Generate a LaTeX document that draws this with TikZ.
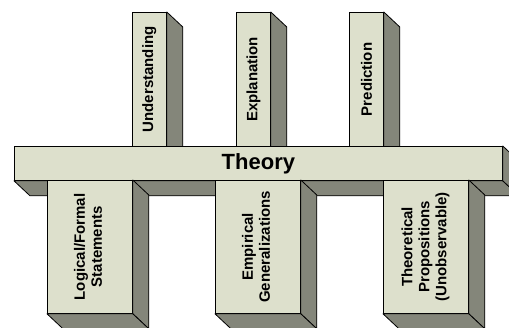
\documentclass[tikz,border=0pt]{standalone}
\usepackage{fontspec}
\setmainfont{Liberation Sans}
\usepackage{xcolor}
\usetikzlibrary{positioning}
\definecolor{facecol}{RGB}{221,224,204}
\definecolor{sidecol}{RGB}{132,134,122}

\begin{document}
\begin{tikzpicture}[
		x=1pt,y=-1pt,
		front/.style={draw,line width=0.8pt,fill=facecol,inner sep=0pt,anchor=north west,font=\bfseries\fontsize{15}{17}\selectfont},
		post/.style={front,minimum width=34pt,minimum height=134pt},
		base/.style={front,minimum width=85pt,minimum height=133pt},
		side/.style={draw,line width=0.8pt,fill=sidecol,line join=round}
		]
		\clip (0,0) rectangle (509,327);
		% upper pillars, behind the bar
		\node[post] (understanding) at (132,12) {\rotatebox{90}{Understanding}};
		\node[post] (explanation) at (236,12) {\rotatebox{90}{Explanation}};
		\node[post] (prediction) at (349,12) {\rotatebox{90}{Prediction}};
		\foreach \n in {understanding,explanation,prediction}
			\draw[side] (\n.north east) -- ++(16,15) -- ([shift={(16,15)}]\n.south east) -- (\n.south east) -- cycle;
		% the bar
		\node[front,minimum width=488pt,minimum height=34pt,font=\bfseries\fontsize{22}{26}\selectfont] (theory) at (14,146) {Theory};
		\draw[side] (theory.south west) -- ++(16,15) -- ([shift={(16,15)}]theory.south east) -- (theory.south east) -- cycle;
		\draw[side] (theory.north east) -- ++(16,15) -- ([shift={(16,15)}]theory.south east) -- (theory.south east) -- cycle;
		% lower pillars, in front of the bar
		\node[base] (logical) at (47,180) {\rotatebox{90}{\begin{tabular}{@{}c@{}}Logical/Formal\\Statements\end{tabular}}};
		\node[base] (empirical) at (215,180) {\rotatebox{90}{\begin{tabular}{@{}c@{}}Empirical\\Generalizations\end{tabular}}};
		\node[base] (theoretical) at (383,180) {\rotatebox{90}{\begin{tabular}{@{}c@{}}Theoretical\\Propositions\\(Unobservable)\end{tabular}}};
		\foreach \n in {logical,empirical,theoretical}{
			\draw[side] (\n.north east) -- ++(16,15) -- ([shift={(16,15)}]\n.south east) -- (\n.south east) -- cycle;
			\draw[side] (\n.south west) -- ++(16,15) -- ([shift={(16,15)}]\n.south east) -- (\n.south east) -- cycle;
		}
	\end{tikzpicture}
\end{document}
